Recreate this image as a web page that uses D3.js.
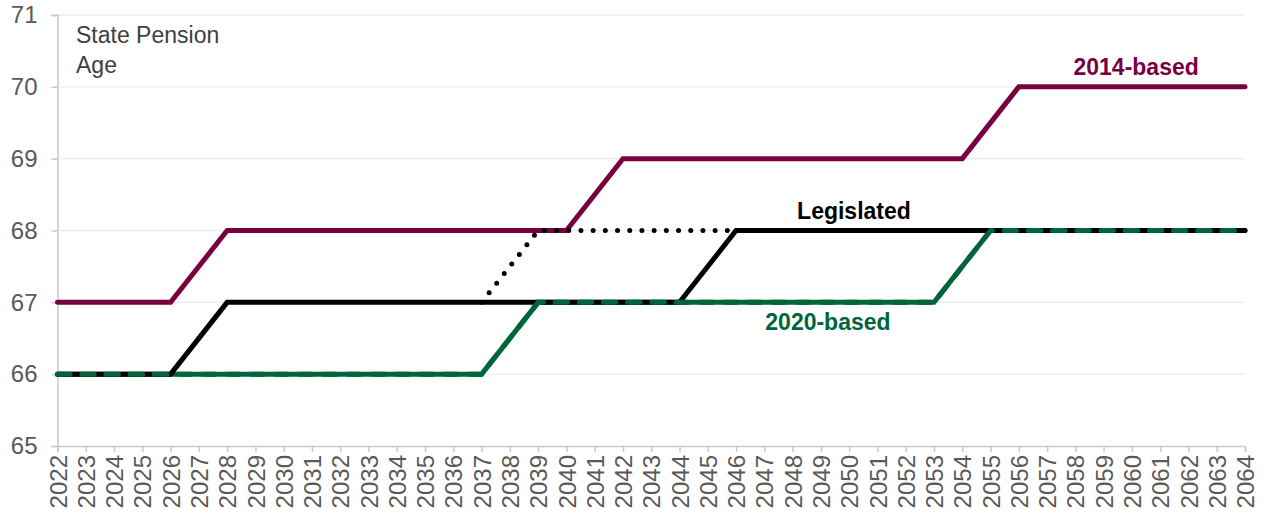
<!DOCTYPE html>
<html>
<head>
<meta charset="utf-8">
<script src="https://cdn.jsdelivr.net/npm/d3@7"></script>
<style>
  html, body { margin: 0; padding: 0; background: #fff; }
  svg { display: block; font-family: "Liberation Sans", Arial, sans-serif; }
</style>
</head>
<body>
<svg id="chart" width="1267" height="517"></svg>
<script>
// ---- Data ----
const years = d3.range(2022, 2065);
const yTicks = [65, 66, 67, 68, 69, 70, 71];
// SPA per year (breakpoints)
const based2014 = [[2022, 67], [2026, 67], [2028, 68], [2040, 68], [2042, 69], [2054, 69], [2056, 70], [2064, 70]];
const legislated = [[2022, 66], [2026, 66], [2028, 67], [2044, 67], [2046, 68], [2064, 68]];
const legislatedProposed = [[2037, 67], [2039, 68], [2046, 68]];
const based2020 = [[2022, 66], [2037, 66], [2039, 67], [2053, 67], [2055, 68], [2064, 68]];

const colMaroon = "#79003f";
const colGreen = "#00643a";
const colBlack = "#000000";

const svg = d3.select("#chart");
const margin = { left: 57.5, right: 22, top: 15, bottom: 71 };
const W = 1267, H = 517;
const FONT = "'Liberation Sans', Arial, sans-serif";

const x = d3.scaleLinear().domain([2022, 2064]).range([margin.left, W - margin.right]);
const y = d3.scaleLinear().domain([65, 71]).range([H - margin.bottom, margin.top]);

// grid lines
svg.append("g").selectAll("line").data(yTicks.slice(1)).join("line")
  .attr("x1", margin.left).attr("x2", x(2064))
  .attr("y1", d => y(d)).attr("y2", d => y(d))
  .attr("stroke", "#ececec").attr("stroke-width", 1.3);

// Y axis
const yAxis = svg.append("g").attr("transform", `translate(${margin.left},0)`)
  .call(d3.axisLeft(y).tickValues(yTicks).tickSize(6).tickPadding(14).tickFormat(d3.format("d")));
yAxis.attr("font-size", null).attr("font-family", null);
yAxis.select(".domain").attr("stroke", "#c9c9c9").attr("stroke-width", 1.5);
yAxis.selectAll(".tick line").attr("stroke", "#c9c9c9").attr("stroke-width", 1.5);
yAxis.selectAll("text").attr("fill", "#595959").attr("font-size", 24).attr("font-family", FONT);

// X axis
const xAxis = svg.append("g").attr("transform", `translate(0,${y(65)})`)
  .call(d3.axisBottom(x).tickValues(years).tickSize(6).tickFormat(d3.format("d")));
xAxis.attr("font-size", null).attr("font-family", null);
xAxis.select(".domain").attr("stroke", "#c9c9c9").attr("stroke-width", 1.5);
xAxis.selectAll(".tick line").attr("stroke", "#c9c9c9").attr("stroke-width", 1.5);
xAxis.selectAll("text")
  .attr("fill", "#595959").attr("font-size", 24).attr("font-family", FONT)
  .attr("text-anchor", "end")
  .attr("transform", "rotate(-90)")
  .attr("x", -9).attr("y", 0).attr("dy", "0.36em");

const line = d3.line().x(d => x(d[0])).y(d => y(d[1]));

// 2014-based
svg.append("path").datum(based2014).attr("d", line)
  .attr("fill", "none").attr("stroke", colMaroon).attr("stroke-width", 5)
  .attr("stroke-linecap", "round");

// 2020-based solid
svg.append("path").datum(based2020).attr("d", line)
  .attr("fill", "none").attr("stroke", colGreen).attr("stroke-width", 5)
  .attr("stroke-linecap", "round");

// legislated proposed (dotted)
svg.append("path").datum(legislatedProposed).attr("d", line)
  .attr("fill", "none").attr("stroke", colBlack).attr("stroke-width", 5)
  .attr("stroke-linecap", "round").attr("stroke-dasharray", "0 12.2");

// legislated solid
svg.append("path").datum(legislated).attr("d", line)
  .attr("fill", "none").attr("stroke", colBlack).attr("stroke-width", 5)
  .attr("stroke-linecap", "round");

// 2020-based dashed overlay (shows where it coincides with legislated)
svg.append("path").datum(based2020).attr("d", line)
  .attr("fill", "none").attr("stroke", colGreen).attr("stroke-width", 5)
  .attr("stroke-linecap", "round").attr("stroke-dasharray", "12.5 11.7");

// Title text
const title = svg.append("text").attr("x", 76).attr("y", 43)
  .attr("fill", "#404040").attr("font-size", 23).attr("font-family", FONT);
title.append("tspan").attr("x", 76).text("State Pension");
title.append("tspan").attr("x", 76).attr("dy", 30).text("Age");

// series labels
const labels = [
  { t: "2014-based", x: 2060.15, y: 70.167, c: colMaroon },
  { t: "Legislated", x: 2050.17, y: 68.157, c: colBlack },
  { t: "2020-based", x: 2049.25, y: 66.62, c: colGreen }
];
svg.append("g").selectAll("text").data(labels).join("text")
  .attr("x", d => x(d.x)).attr("y", d => y(d.y))
  .attr("text-anchor", "middle").attr("fill", d => d.c)
  .attr("font-size", 23).attr("font-weight", "bold").attr("font-family", FONT)
  .text(d => d.t);
</script>
</body>
</html>
